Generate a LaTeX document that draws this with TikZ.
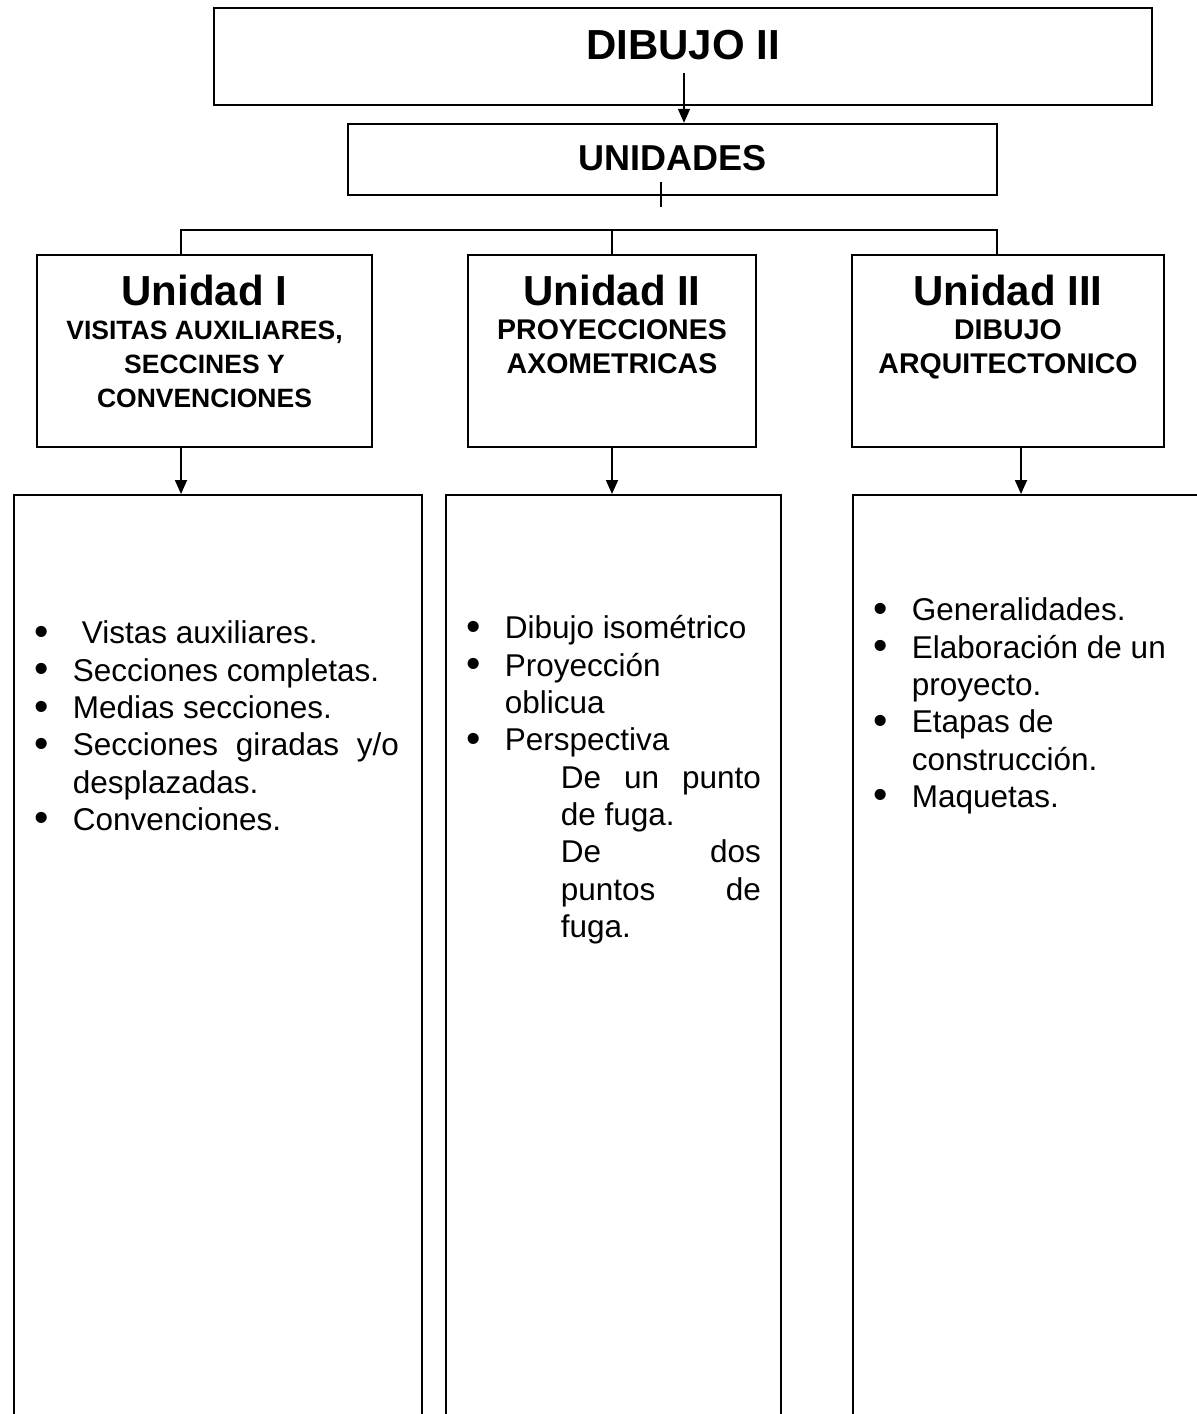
\documentclass[tikz,border=0pt]{standalone}
\usepackage{fontspec}
\usepackage{graphicx}
\setmainfont{Liberation Sans}
\usetikzlibrary{arrows.meta, positioning}
\tikzstyle{box}=[draw, line width=1.8pt, inner sep=0pt]
\tikzstyle{headbox}=[box, font=\fontsize{42pt}{50pt}\selectfont\bfseries]
\tikzstyle{unitbox}=[box, anchor=north, align=center, text height=51pt, text depth=141pt, font=\bfseries]
\tikzstyle{listbox}=[box, anchor=north west, align=left, font=\fontsize{31.5pt}{37.3pt}\selectfont]
\newcommand{\normsp}{\spaceskip=0pt\xspaceskip=0pt\relax}
\newcommand{\unidad}[3]{\normsp\centering{\fontsize{42pt}{42pt}\selectfont #1\par}\fontsize{#2}{34pt}\selectfont #3\par}
\newcommand{\bitem}[1]{\makebox[59pt][l]{\hspace{21pt}\raisebox{-1.5pt}{\scalebox{1.3}{\textbullet}}}#1}
\newcommand{\cont}[1]{\hspace*{59pt}#1}
\newcommand{\sub}[1]{\hspace*{115pt}#1}
\begin{document}
\begin{tikzpicture}[x=1pt, y=-1pt, >={Triangle[length=14pt,width=12pt]}, line width=1.8pt]
  \useasboundingbox (0,0) rectangle (1197,1414);
  \clip (0,0) rectangle (1197,1414);
  \node[headbox, anchor=north, minimum width=938pt, text height=52pt, text depth=45pt] (dibujo) at (683,7) {DIBUJO II};
  \node[headbox, font=\fontsize{36pt}{44pt}\selectfont\bfseries, minimum width=649pt, text height=47pt, text depth=24pt]
       (unidades) [below=17pt of dibujo, xshift=-10.5pt] {UNIDADES};

  \node[unitbox, text width=335pt] (u1) at (204.5,254)
       {\unidad{Unidad I}{26.5pt}{VISITAS AUXILIARES,\\SECCINES Y\\CONVENCIONES}};
  \node[unitbox, text width=288pt] (u2) at (612,254)
       {\unidad{Unidad II}{28.5pt}{PROYECCIONES\\AXOMETRICAS}};
  \node[unitbox, text width=312pt] (u3) at (1008,254)
       {\unidad{Unidad III}{28.5pt}{DIBUJO\\ARQUITECTONICO}};

  \node[listbox, text width=408pt, text height=149pt, text depth=800pt] (l1) at (13,494) {\normsp\raggedright
    \bitem{\hspace{9pt}Vistas auxiliares.}\\
    \bitem{Secciones completas.}\\
    \bitem{Medias secciones.}\\
    \bitem{\makebox[326pt][s]{Secciones giradas y/o}}\\
    \cont{desplazadas.}\\
    \bitem{Convenciones.}};
  \node[listbox, text width=335pt, text height=144pt, text depth=800pt] (l2) at (445,494) {\normsp\raggedright
    \bitem{Dibujo isométrico}\\
    \bitem{Proyección}\\
    \cont{oblicua}\\
    \bitem{Perspectiva}\\
    \sub{\makebox[200pt][s]{De un punto}}\\
    \sub{de fuga.}\\
    \sub{\makebox[200pt][s]{De dos}}\\
    \sub{\makebox[200pt][s]{puntos de}}\\
    \sub{fuga.}};
  \node[listbox, text width=378pt, text height=126pt, text depth=820pt] (l3) at (852,494) {\normsp\raggedright
    \bitem{Generalidades.}\\
    \bitem{Elaboración de un}\\
    \cont{proyecto.}\\
    \bitem{Etapas de}\\
    \cont{construcción.}\\
    \bitem{Maquetas.}};

  % connectors
  \coordinate (top) at (684,73);
  \draw[->] (top) -- (top |- unidades.north);
  \coordinate (stub) at (661,182);
  \coordinate (stubend) at (661,207);
  \draw (stub) -- (stubend);
  \coordinate (bl) at (181,230);
  \coordinate (bm) at (612,230);
  \coordinate (br) at (997,230);
  \draw (bl |- u1.north) -- (bl) -- (br) -- (br |- u3.north);
  \draw (bm) -- (u2.north);
  \draw[->] (bl |- u1.south) -- (bl |- l1.north);
  \draw[->] (u2.south) -- (u2.south |- l2.north);
  \coordinate (a3) at ([xshift=13pt]u3.south);
  \draw[->] (a3) -- (a3 |- l3.north);
\end{tikzpicture}
\end{document}
